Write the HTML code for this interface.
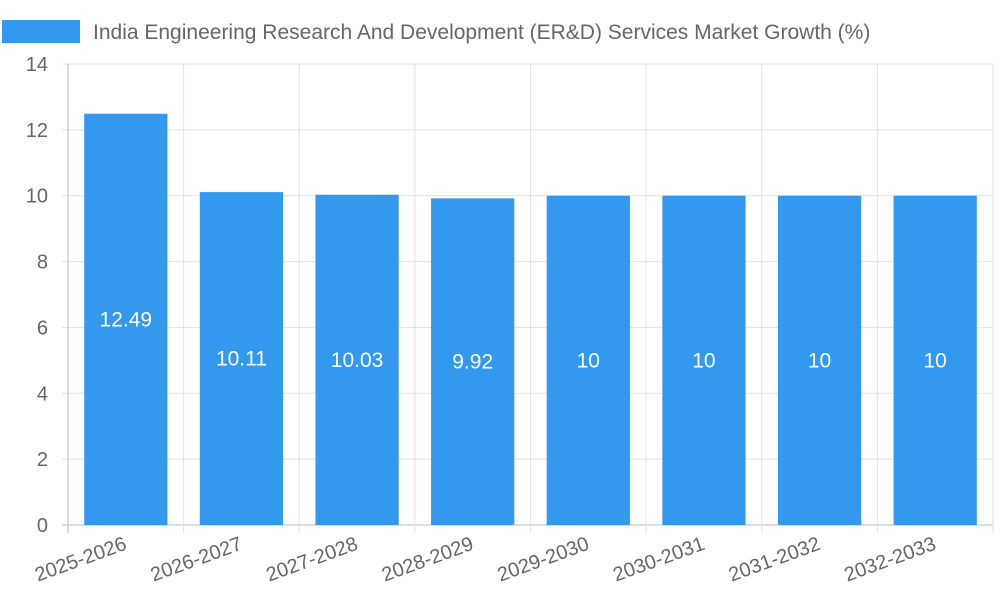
<!DOCTYPE html>
<html><head><meta charset="utf-8"><style>
html,body{margin:0;padding:0;background:#fff;}
svg{display:block;font-family:"Liberation Sans",sans-serif;}
</style></head><body>
<svg id="chart" width="1000" height="600">
<g id="grid"></g>
<g id="bars"></g>
<g id="axes"></g>
<g>
<rect x="2" y="20" width="78" height="23" fill="#3399ee"></rect>
<text x="93" y="39" font-size="21" fill="#666">India Engineering Research And Development (ER&amp;D) Services Market Growth (%)</text>
</g>
</svg>
<script>
const categories=["2025-2026","2026-2027","2027-2028","2028-2029","2029-2030","2030-2031","2031-2032","2032-2033"];
const values=[12.49,10.11,10.03,9.92,10,10,10,10];
const valueLabels=["12.49","10.11","10.03","9.92","10","10","10","10"];
const yTicks=[0,2,4,6,8,10,12,14];
const NS="http://www.w3.org/2000/svg";
const L=68,R=993,T=64,B=525,yMax=14;
const bw=(R-L)/categories.length;
const y=v=>B-(v/yMax)*(B-T);
const x=i=>L+i*bw;
function mk(tag,attrs,parent){const e=document.createElementNS(NS,tag);for(const k in attrs)e.setAttribute(k,attrs[k]);parent.appendChild(e);return e;}
const grid=document.getElementById('grid'),bars=document.getElementById('bars'),axes=document.getElementById('axes');
yTicks.forEach(t=>{
 const g=mk('line',{x1:L-6,x2:R,y1:y(t),y2:y(t),stroke:t===0?'#bbb':'#e2e2e2','stroke-width':1},grid);
 
 
 const tx=mk('text',{x:L-20,y:y(t)+7,'font-size':20,fill:'#666','text-anchor':'end'},axes);
 tx.textContent=t;
 
 
});
for(let i=0;i<=categories.length;i++){
 const g=mk('line',{x1:x(i),x2:x(i),y1:T,y2:B+8,stroke:i===0?'#bbb':'#e2e2e2','stroke-width':1},grid);
 
 
}
categories.forEach((c,i)=>{
 const cx=x(i)+bw/2,w=bw*0.72;
 const r=mk('rect',{x:cx-w/2,y:y(values[i]),width:w,height:B-y(values[i]),fill:'#3399ee'},bars);
 
 
 const vl=mk('text',{x:cx,y:(y(values[i])+B)/2+7,'font-size':21,fill:'#fff','text-anchor':'middle'},bars);
 vl.textContent=valueLabels[i];
 
 
 const xl=mk('text',{x:cx+2,y:B+24,'font-size':20,fill:'#666','text-anchor':'end',transform:`rotate(-20 ${cx+2} ${B+24})`},axes);
 xl.textContent=c;
 
 
});
</script>
</body></html>
